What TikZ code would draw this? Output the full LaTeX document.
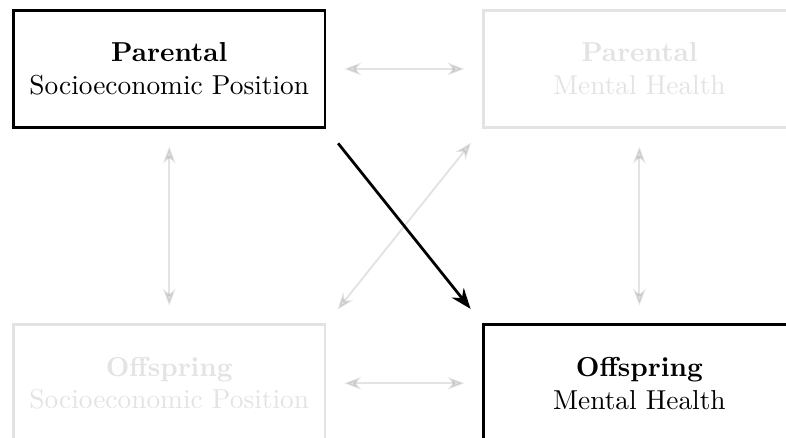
\documentclass[tikz,border=0pt]{standalone}
\usepackage{tikz}
\usetikzlibrary{arrows.meta, positioning}
\tikzset{
  box/.style={rectangle,draw,line width=1pt,align=center,minimum width=4cm,minimum height=1.5cm,inner sep=3pt},
  dimbox/.style={box,draw opacity=0.11,text opacity=0.11},
  line/.style={-{Stealth},line width=1pt,shorten <=0.24cm,shorten >=0.24cm},
  dimline/.style={{Stealth}-{Stealth},opacity=0.11,line width=0.7pt,shorten <=0.23cm,shorten >=0.23cm}
}

\begin{document}
\begin{tikzpicture}[node distance=2.5cm and 2cm]
\useasboundingbox (-2.173,0.885) rectangle ++(10.09,-5.62);
\node[box] (pses) at (0,0) {\textbf{Parental}\\Socioeconomic Position};
\node[dimbox, right=of pses] (pmh) {\textbf{Parental}\\Mental Health};
\node[dimbox, below=of pses] (oses) {\textbf{Offspring}\\Socioeconomic Position};
\node[box, right=of oses] (omh) {\textbf{Offspring}\\Mental Health};
\draw[dimline] (pses) -- (pmh);
\draw[dimline] (oses) -- (omh);
\draw[dimline] (pses) -- (oses);
\draw[dimline] (pmh) -- (omh);
\draw[dimline] (pmh.south west) -- (oses.north east);
\draw[line] (pses.south east) -- (omh.north west);
\end{tikzpicture}
\end{document}
